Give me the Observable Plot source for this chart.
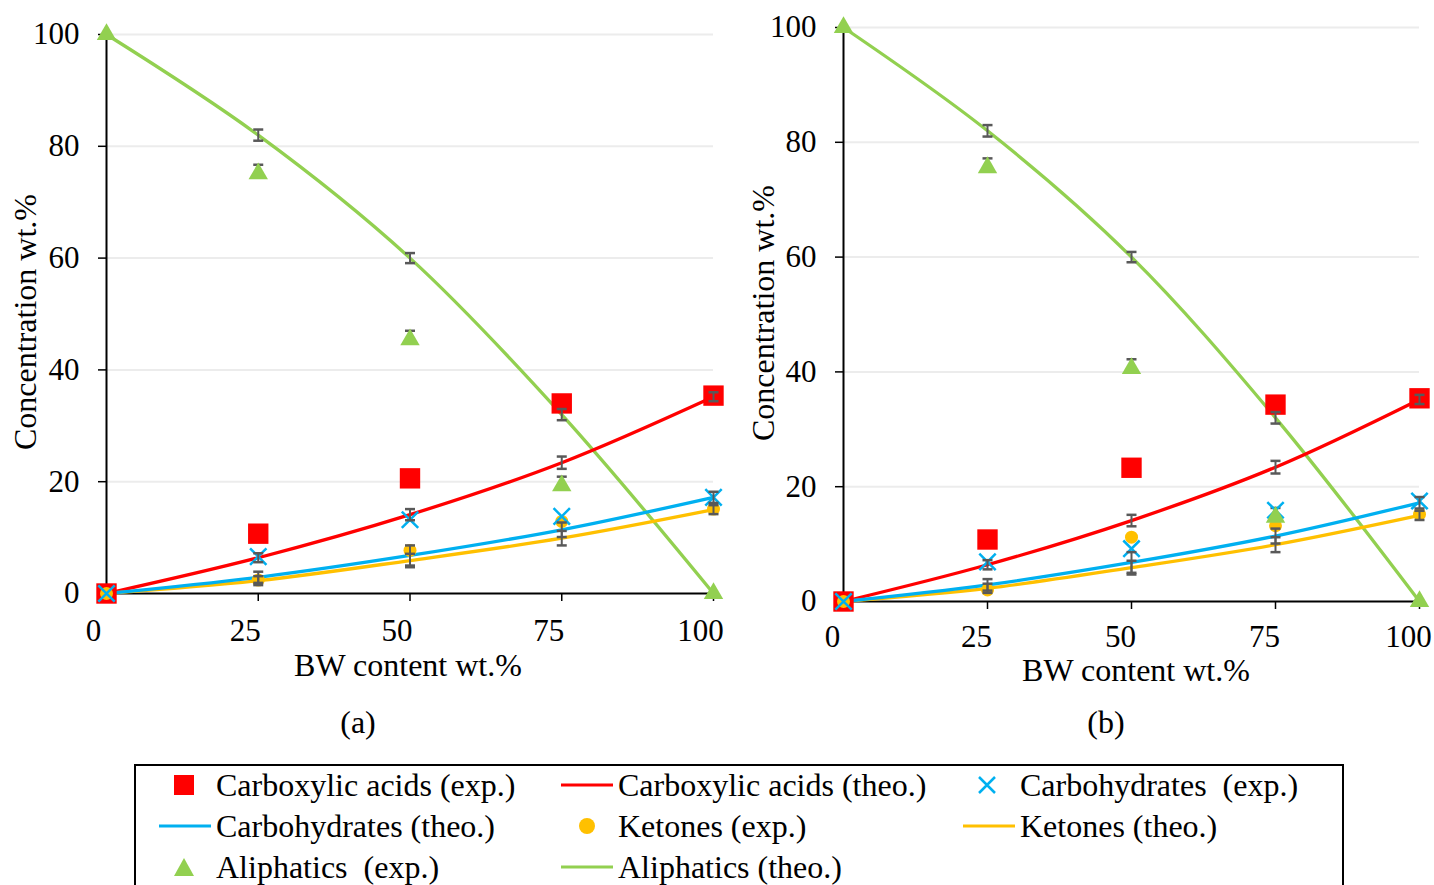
<!DOCTYPE html>
<html>
<head>
<meta charset="utf-8">
<script src="https://cdn.jsdelivr.net/npm/d3@7"></script>
<script src="https://cdn.jsdelivr.net/npm/@observablehq/plot@0.6"></script>
<style>
  html, body { margin: 0; padding: 0; background: #fff; }
  #root { position: relative; width: 1434px; height: 885px; overflow: hidden; font-family: "Liberation Serif", "Times New Roman", serif; color: #000; }
  .abs { position: absolute; white-space: nowrap; }
  .t { font-size: 32px; line-height: 1; }
  .leg { position: absolute; left: 134px; top: 764px; width: 1210px; height: 140px; border: 2px solid #000; box-sizing: border-box; }
  .item { position: absolute; display: flex; align-items: center; font-size: 32px; white-space: nowrap; }
</style>
</head>
<body>
<div id="root"></div>
<script>
// ---------- data ----------
const bwContent = [0, 25, 50, 75, 100];
const xTickLabels = [0, 25, 50, 75, 100];
const yTickLabels = [0, 20, 40, 60, 80, 100];

// theoretical values (same model in both panels)
const carboxylicTheo = [0, 6.4, 14.1, 23.4, 35.2];
const carbohydratesTheo = [0, 2.9, 6.8, 11.4, 17.2];
const ketonesTheo = [0, 2.3, 5.9, 9.9, 15.0];
const aliphaticsTheo = [100, 82, 60, 32, 0];
// error of theoretical values
const carboxylicTheoErr = [0, 0.8, 1.0, 1.1, 0.8];
const carbohydratesTheoErr = [0, 1.0, 1.8, 1.3, 1.0];
const ketonesTheoErr = [0, 0.8, 1.2, 1.3, 0.8];
const aliphaticsTheoErr = [0, 1.0, 0.9, 1.0, 0];

// panel (a) experimental
const carboxylicExpA = [0, 10.7, 20.6, 34.0, 35.4];
const carbohydratesExpA = [0, 6.6, 13.2, 13.8, 17.2];
const ketonesExpA = [0, 2.4, 7.7, 12.9, 15.1];
const aliphaticsExpA = [100, 75.1, 45.4, 19.3, 0];
const aliphaticsExpErrA = [0, 1.6, 1.6, 1.6, 0];

// panel (b) experimental
const carboxylicExpB = [0, 10.8, 23.3, 34.3, 35.4];
const carbohydratesExpB = [0, 6.9, 9.2, 15.9, 17.5];
const ketonesExpB = [0, 2.0, 11.2, 13.2, 15.2];
const aliphaticsExpB = [100, 75.6, 40.6, 14.7, 0];
const aliphaticsExpErrB = [0, 1.6, 1.6, 1.6, 0];

const colors = { carboxylic: "#ff0000", carbohydrates: "#00b0f0", ketones: "#ffc000", aliphatics: "#92d050" };
const errColor = "#595959";

// ---------- helpers ----------
const rows = (values, err) => bwContent.map((x, i) => ({ x, y: values[i], e: err ? err[i] : 0 }));
const capSymbol = { draw(ctx, size) { const w = Math.sqrt(size / Math.PI); ctx.moveTo(-w, 0); ctx.lineTo(w, 0); } };

function errorMarks(data, upperOnly) {
  const d = data.filter(r => r.e > 0);
  const marks = [
    Plot.link(d, { x1: "x", x2: "x", y1: r => upperOnly ? r.y : r.y - r.e, y2: r => r.y + r.e, stroke: errColor, strokeWidth: 2 }),
    Plot.dot(d, { x: "x", y: r => r.y + r.e, symbol: capSymbol, r: 5, stroke: errColor, strokeWidth: 2.5, fill: "none" })
  ];
  if (!upperOnly) marks.push(Plot.dot(d, { x: "x", y: r => r.y - r.e, symbol: capSymbol, r: 5, stroke: errColor, strokeWidth: 2.5, fill: "none" }));
  return marks;
}

function panel(exp, m) {
  const theo = {
    carboxylic: rows(carboxylicTheo, carboxylicTheoErr),
    carbohydrates: rows(carbohydratesTheo, carbohydratesTheoErr),
    ketones: rows(ketonesTheo, ketonesTheoErr),
    aliphatics: rows(aliphaticsTheo, aliphaticsTheoErr)
  };
  const ex = {
    carboxylic: rows(exp.carboxylic),
    carbohydrates: rows(exp.carbohydrates),
    ketones: rows(exp.ketones),
    aliphatics: rows(exp.aliphatics, exp.aliphaticsErr)
  };
  return Plot.plot({
    width: m.width, height: m.height,
    marginLeft: m.left, marginRight: m.right, marginTop: m.top, marginBottom: m.bottom,
    style: { fontFamily: "Liberation Serif, Times New Roman, serif", fontSize: "31px", color: "#000", background: "transparent", overflow: "visible" },
    x: { domain: [0, 100], label: null },
    y: { domain: [0, 100], label: null },
    marks: [
      Plot.gridY(yTickLabels.filter(v => v > 0), { stroke: "#ececec", strokeOpacity: 1, strokeWidth: 2 }),
      Plot.axisY(yTickLabels, { tickSize: 8, tickPadding: 19, fontSize: 31, label: null, strokeWidth: 1.5 }),
      Plot.axisX(xTickLabels.filter(v => v > 0), { tickSize: 8, text: null, label: null, strokeWidth: 1.5 }),
      Plot.axisX(xTickLabels, { tickSize: 0, tickPadding: m.tickPad, dx: m.labelDx, fontSize: 31, label: null }),
      Plot.ruleX([0], { stroke: "#000", strokeWidth: 2 }),
      Plot.ruleY([0], { stroke: "#000", strokeWidth: 2 }),
      Plot.line(theo.aliphatics, { x: "x", y: "y", stroke: colors.aliphatics, strokeWidth: 3.3, curve: "catmull-rom" }),
      Plot.line(theo.carboxylic, { x: "x", y: "y", stroke: colors.carboxylic, strokeWidth: 3.3, curve: "catmull-rom" }),
      Plot.line(theo.ketones, { x: "x", y: "y", stroke: colors.ketones, strokeWidth: 3.3, curve: "catmull-rom" }),
      Plot.line(theo.carbohydrates, { x: "x", y: "y", stroke: colors.carbohydrates, strokeWidth: 3.3, curve: "catmull-rom" }),
      ...errorMarks(ex.aliphatics, true),
      Plot.dot(ex.carboxylic, { x: "x", y: "y", symbol: "square", r: 11.5, fill: colors.carboxylic }),
      Plot.dot(ex.ketones, { x: "x", y: "y", symbol: "circle", r: 6.5, fill: colors.ketones }),
      Plot.dot(ex.carbohydrates, { x: "x", y: "y", symbol: "times", r: 7.5, stroke: colors.carbohydrates, strokeWidth: 2.5 }),
      Plot.dot(ex.aliphatics, { x: "x", y: "y", symbol: "triangle", r: 7.2, fill: colors.aliphatics }),
      ...errorMarks(theo.carboxylic),
      ...errorMarks(theo.carbohydrates),
      ...errorMarks(theo.ketones),
      ...errorMarks(theo.aliphatics)
    ]
  });
}

const root = document.getElementById("root");
function place(el, left, top) { el.style.position = "absolute"; el.style.left = left + "px"; el.style.top = top + "px"; root.appendChild(el); }
function text(str, cx, cy, rotate) {
  const d = document.createElement("div");
  d.className = "abs t";
  d.textContent = str;
  d.style.left = cx + "px"; d.style.top = cy + "px";
  d.style.transform = "translate(-50%,-50%)" + (rotate ? " rotate(-90deg)" : "");
  root.appendChild(d);
}

const pa = panel({ carboxylic: carboxylicExpA, carbohydrates: carbohydratesExpA, ketones: ketonesExpA, aliphatics: aliphaticsExpA, aliphaticsErr: aliphaticsExpErrA },
  { width: 740, height: 700, left: 106, right: 27, top: 34, bottom: 107, labelDx: -13, tickPad: 25 });
place(pa, 0, 0);
const pb = panel({ carboxylic: carboxylicExpB, carbohydrates: carbohydratesExpB, ketones: ketonesExpB, aliphatics: aliphaticsExpB, aliphaticsErr: aliphaticsExpErrB },
  { width: 694, height: 700, left: 103, right: 15, top: 27, bottom: 99, labelDx: -11, tickPad: 23 });
place(pb, 740, 0);

text("Concentration wt.%", 25, 322, true);
text("BW content wt.%", 408, 665);
text("(a)", 358, 722);
text("Concentration wt.%", 763, 313, true);
text("BW content wt.%", 1136, 670);
text("(b)", 1106, 722);

// ---------- legend ----------
const leg = document.createElement("div");
leg.className = "leg";
root.appendChild(leg);
const legendItems = [
  { label: "Carboxylic acids (exp.)", kind: "square", color: colors.carboxylic, x: 170, y: 785 },
  { label: "Carboxylic acids (theo.)", kind: "line", color: colors.carboxylic, x: 560, y: 785 },
  { label: "Carbohydrates  (exp.)", kind: "times", color: colors.carbohydrates, x: 973, y: 785 },
  { label: "Carbohydrates (theo.)", kind: "line", color: colors.carbohydrates, x: 158, y: 826 },
  { label: "Ketones (exp.)", kind: "circle", color: colors.ketones, x: 573, y: 826 },
  { label: "Ketones (theo.)", kind: "line", color: colors.ketones, x: 962, y: 826 },
  { label: "Aliphatics  (exp.)", kind: "triangle", color: colors.aliphatics, x: 170, y: 867 },
  { label: "Aliphatics (theo.)", kind: "line", color: colors.aliphatics, x: 560, y: 867 }
];
for (const it of legendItems) {
  const d = document.createElement("div");
  d.className = "item";
  d.style.left = (it.x - 136) + "px";
  d.style.top = (it.y - 766 - 16) + "px";
  d.style.height = "32px";
  let sw;
  if (it.kind === "line") {
    sw = `<svg width="54" height="10" style="margin-right:4px"><line x1="1" y1="5" x2="53" y2="5" stroke="${it.color}" stroke-width="3"/></svg>`;
  } else if (it.kind === "square") {
    sw = `<svg width="28" height="28" style="margin-right:18px"><rect x="4" y="4" width="20" height="20" fill="${it.color}"/></svg>`;
  } else if (it.kind === "times") {
    sw = `<svg width="28" height="28" style="margin-right:19px"><path d="M6,6L22,22M22,6L6,22" stroke="${it.color}" stroke-width="2.5"/></svg>`;
  } else if (it.kind === "circle") {
    sw = `<svg width="28" height="28" style="margin-right:17px"><circle cx="14" cy="14" r="8" fill="${it.color}"/></svg>`;
  } else {
    sw = `<svg width="28" height="28" style="margin-right:18px"><path d="M14,5L24,23L4,23Z" fill="${it.color}"/></svg>`;
  }
  d.innerHTML = sw + `<span style="white-space:pre">${it.label}</span>`;
  leg.appendChild(d);
}
</script>
</body>
</html>
